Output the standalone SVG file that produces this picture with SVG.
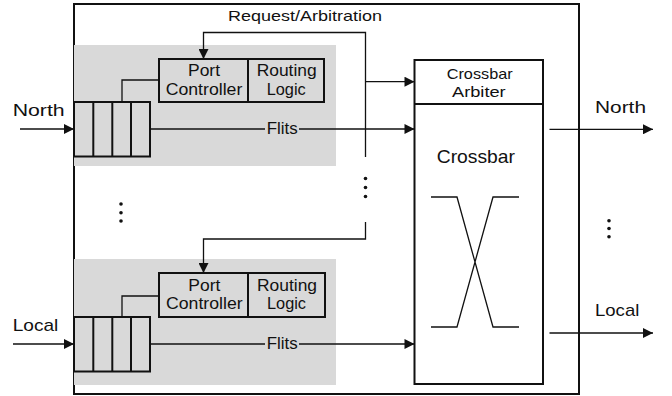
<svg xmlns="http://www.w3.org/2000/svg" width="672" height="396" viewBox="0 0 672 396">
<style>
text{font-family:"Liberation Sans",Arial,sans-serif;fill:#111;}
.t15{font-size:15px;}
.t16{font-size:16px;}
.t17{font-size:17px;}
.t19{font-size:19px;}
.box{fill:none;stroke:#111;stroke-width:2;}
.fbox{fill:#d9d9d9;stroke:#111;stroke-width:2;}
.gray{fill:#d9d9d9;stroke:none;}
.ln{fill:none;stroke:#111;stroke-width:1.3;}
.arr{fill:none;stroke:#111;stroke-width:1.3;marker-end:url(#ah);}
.dot{fill:#111;}
</style>
<defs>
<marker id="ah" viewBox="0 0 10 10" refX="10" refY="5" markerUnits="userSpaceOnUse" markerWidth="11" markerHeight="10" orient="auto">
<path d="M0,0 L10,5 L0,10 Z" fill="#111"/>
</marker>
</defs>
<rect id="outer" x="74" y="4" width="505" height="390" fill="#fff" stroke="#111" stroke-width="2"/>
<g id="north-input">
<rect class="gray" x="74" y="45" width="262" height="121"/>
<rect class="fbox" x="74" y="102" width="76" height="54.5"/>
<line class="box" x1="93.3" y1="102" x2="93.3" y2="156.5"/>
<line class="box" x1="112.3" y1="102" x2="112.3" y2="156.5"/>
<line class="box" x1="131" y1="102" x2="131" y2="156.5"/>
<rect class="fbox" x="159" y="59" width="89" height="43"/>
<rect class="fbox" x="248" y="59" width="76" height="43"/>
<text class="t16" x="188" y="76" textLength="32" lengthAdjust="spacingAndGlyphs">Port</text>
<text class="t16" x="165.7" y="94.5" textLength="76.6" lengthAdjust="spacingAndGlyphs">Controller</text>
<text class="t16" x="256.7" y="76" textLength="60" lengthAdjust="spacingAndGlyphs">Routing</text>
<text class="t16" x="266.7" y="94.5" textLength="39" lengthAdjust="spacingAndGlyphs">Logic</text>
</g>
<g id="local-input">
<rect class="gray" x="74" y="259" width="262" height="126"/>
<rect class="fbox" x="74" y="317" width="76" height="54.5"/>
<line class="box" x1="93.3" y1="317" x2="93.3" y2="371.5"/>
<line class="box" x1="112.3" y1="317" x2="112.3" y2="371.5"/>
<line class="box" x1="131" y1="317" x2="131" y2="371.5"/>
<rect class="fbox" x="159" y="273" width="89" height="44"/>
<rect class="fbox" x="248" y="273" width="77" height="44"/>
<text class="t16" x="188.3" y="290.5" textLength="32" lengthAdjust="spacingAndGlyphs">Port</text>
<text class="t16" x="166" y="309" textLength="76.6" lengthAdjust="spacingAndGlyphs">Controller</text>
<text class="t16" x="257" y="290.5" textLength="60" lengthAdjust="spacingAndGlyphs">Routing</text>
<text class="t16" x="267" y="309" textLength="39" lengthAdjust="spacingAndGlyphs">Logic</text>
</g>
<g id="crossbar">
<rect class="box" x="414.5" y="60" width="128.5" height="324"/>
<line class="box" x1="414.5" y1="104" x2="543" y2="104"/>
<text class="t15" x="446.7" y="79" textLength="66" lengthAdjust="spacingAndGlyphs">Crossbar</text>
<text class="t15" x="452" y="96.5" textLength="53.7" lengthAdjust="spacingAndGlyphs">Arbiter</text>
<text class="t19" x="436.7" y="163" textLength="78.3" lengthAdjust="spacingAndGlyphs">Crossbar</text>
<path class="ln" d="M431,197 H457 L493,327 H519 M431,327 H457 L493,197 H519"/>
</g>
<g id="connectors">
<line class="arr" x1="20" y1="129" x2="74" y2="129"/>
<line class="arr" x1="13" y1="344" x2="74" y2="344"/>
<path class="ln" d="M122,102 V80 H159"/>
<path class="ln" d="M122,317 V296 H159"/>
<path class="arr" d="M365.5,157 V32.5 H203.5 V59"/>
<path class="arr" d="M365.5,81.7 H414.5"/>
<path class="arr" d="M365.5,222 V239 H203.5 V273"/>
<line class="ln" x1="150" y1="129" x2="265" y2="129"/>
<line class="arr" x1="299" y1="129" x2="414.5" y2="129"/>
<line class="ln" x1="150" y1="344" x2="265" y2="344"/>
<line class="arr" x1="299" y1="344" x2="414.5" y2="344"/>
<line class="arr" x1="549.5" y1="129.3" x2="653" y2="129.3"/>
<line class="arr" x1="549.5" y1="333" x2="653" y2="333"/>
<text class="t16" x="266.7" y="134" textLength="31" lengthAdjust="spacingAndGlyphs">Flits</text>
<text class="t16" x="266.7" y="349" textLength="31" lengthAdjust="spacingAndGlyphs">Flits</text>
<text class="t15" x="228" y="21" textLength="154" lengthAdjust="spacingAndGlyphs">Request/Arbitration</text>
</g>
<g id="labels">
<text class="t17" x="12.7" y="115.5" textLength="52" lengthAdjust="spacingAndGlyphs">North</text>
<text class="t17" x="12.7" y="331" textLength="45.6" lengthAdjust="spacingAndGlyphs">Local</text>
<text class="t17" x="595" y="113" textLength="51" lengthAdjust="spacingAndGlyphs">North</text>
<text class="t17" x="595" y="316" textLength="44.3" lengthAdjust="spacingAndGlyphs">Local</text>
</g>
<g id="dots">
<circle class="dot" cx="365.5" cy="178.5" r="1.8"/>
<circle class="dot" cx="365.5" cy="187.5" r="1.8"/>
<circle class="dot" cx="365.5" cy="196.5" r="1.8"/>
<circle class="dot" cx="121" cy="204" r="1.8"/>
<circle class="dot" cx="121" cy="212.7" r="1.8"/>
<circle class="dot" cx="121" cy="221" r="1.8"/>
<circle class="dot" cx="609" cy="220.7" r="1.8"/>
<circle class="dot" cx="609" cy="228.5" r="1.8"/>
<circle class="dot" cx="609" cy="236.7" r="1.8"/>
</g>
</svg>
